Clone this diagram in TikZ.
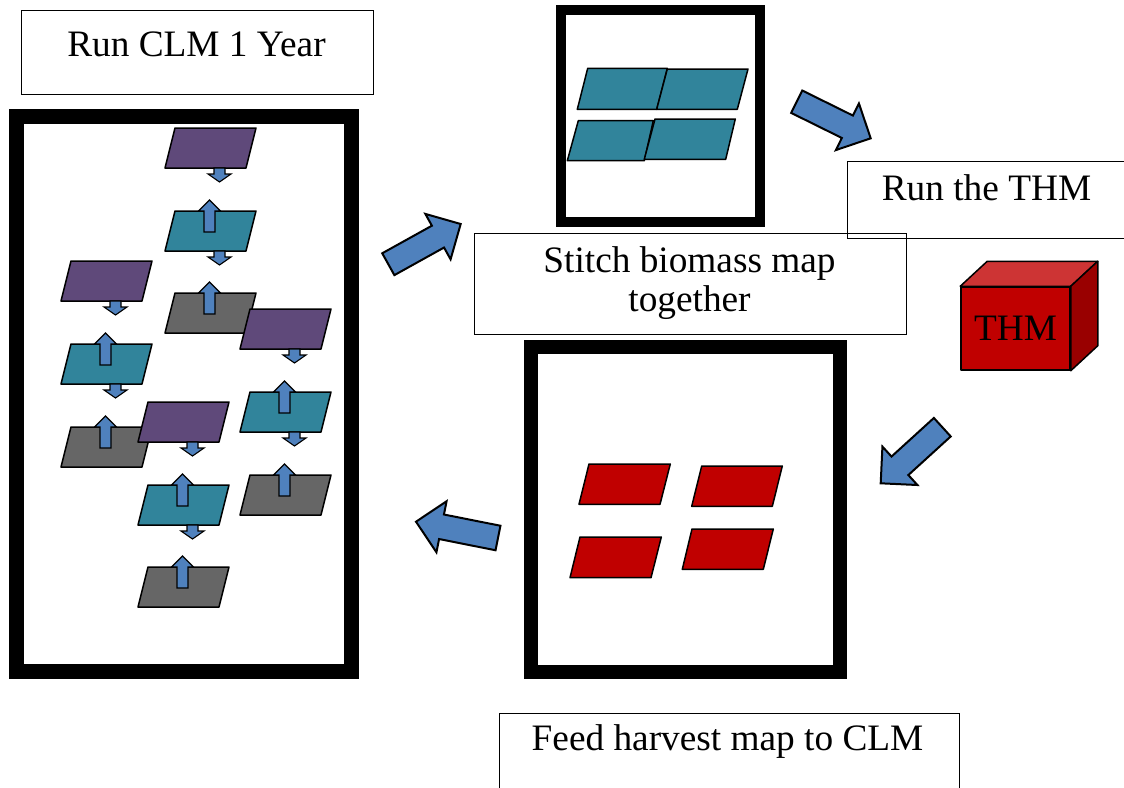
\documentclass[tikz,border=0pt]{standalone}
\usepackage{fontspec}
\setmainfont{Liberation Serif}
\usetikzlibrary{calc}
\definecolor{layerpurple}{HTML}{5F497A}
\definecolor{layerteal}{HTML}{31849B}
\definecolor{layergray}{HTML}{666666}
\definecolor{arrowblue}{HTML}{4F81BD}
\definecolor{mapred}{HTML}{C00000}
\definecolor{cubetop}{HTML}{CD3434}
\definecolor{cubeside}{HTML}{990000}

% block arrow: #1 shaft half width, #2 head half width, #3 head length, #4 tail, #5 tip, #6 style
\newcommand{\blockarr}[6]{%
  \coordinate (bah) at ($(#5)!#3!(#4)$);
  \filldraw[#6] ($(#4)!#1!90:(#5)$) -- ($(bah)!#1!90:(#5)$) -- ($(bah)!#2!90:(#5)$) -- (#5)
     -- ($(bah)!#2!-90:(#5)$) -- ($(bah)!#1!-90:(#5)$) -- ($(#4)!#1!-90:(#5)$) -- cycle;}
% layer parallelogram: #1 centre x, #2 top y, #3 colour
\newcommand{\layer}[3]{%
  \filldraw[tile, fill=#3] ({#1-35.5},#2) -- ({#1+45.5},#2) -- ({#1+35.5},{#2+40}) -- ({#1-45.5},{#2+40}) -- cycle;}
% small down arrow below a layer: #1 centre x, #2 top y of layer
\newcommand{\downarr}[2]{%
  \coordinate (sd-t) at ({#1+9},{#2+40});
  \coordinate (sd-h) at ({#1+9},{#2+54});
  \blockarr{5.5pt}{11.5pt}{8pt}{sd-t}{sd-h}{smallarr}}
% small up arrow into a layer: #1 centre x, #2 top y of layer
\newcommand{\uparr}[2]{%
  \coordinate (su-t) at ({#1-1},{#2+21});
  \coordinate (su-h) at ({#1-1},{#2-11});
  \blockarr{5.5pt}{11pt}{11pt}{su-t}{su-h}{smallarr}}
% one column: #1 centre x, #2 #3 #4 top of purple, teal, gray
\newcommand{\layercolumn}[4]{%
  \layer{#1}{#2}{layerpurple}\downarr{#1}{#2}%
  \layer{#1}{#3}{layerteal}\uparr{#1}{#3}\downarr{#1}{#3}%
  \layer{#1}{#4}{layergray}\uparr{#1}{#4}}

\begin{document}
\begin{tikzpicture}[x=1pt,y=-1pt,
  lbl/.style={font=\fontsize{37.3}{39}\selectfont, inner sep=0pt, anchor=base},
  box/.style={draw, line width=1.2pt, inner sep=0pt, anchor=north west},
  thickframe/.style={draw, line width=#1},
  tile/.style={draw, line width=1.5pt, line join=round},
  bigarr/.style={fill=arrowblue, draw=black, line width=2pt},
  smallarr/.style={fill=arrowblue, draw=black, line width=1.1pt},
  cubeface/.style={draw, line width=1.5pt, line join=round},
]
\useasboundingbox (0,0) rectangle (1124,787);

% ---- left panel: run CLM ----
\node[box, minimum width=352pt, minimum height=83.5pt] (clmbox) at (20.5,10) {};
\node[lbl] (clmtext) at (196.5,56) {Run CLM 1 Year};
\draw[thickframe=14.5pt] (16.6,116.3) rectangle (351.6,671.7);
\layercolumn{210.5}{128}{211}{293}
\layercolumn{106.5}{261}{344}{427}
\layercolumn{285.5}{309}{392}{475}
\layercolumn{183.5}{402}{485}{567}

% ---- top middle: stitched map ----
\draw[thickframe=10pt] (561,10) rectangle (760,222);
\filldraw[tile, fill=layerteal] (587.7,68.3) -- (667.3,68.3) -- (656.7,109.3) -- (577.3,109.3) -- cycle;
\filldraw[tile, fill=layerteal] (667.3,69) -- (748,69) -- (737.3,109.3) -- (656.7,109.3) -- cycle;
\filldraw[tile, fill=layerteal] (578.3,120.7) -- (653.3,120.7) -- (644.3,160.7) -- (567.3,160.7) -- cycle;
\filldraw[tile, fill=layerteal] (655,119) -- (735.3,119) -- (725.7,159.3) -- (644.3,159.3) -- cycle;

\node[box, minimum width=431.5pt, minimum height=101pt] (stitchbox) at (474,232.5) {};
\node[lbl] (stitch1) at (689.5,272) {Stitch biomass map};
\node[lbl] (stitch2) at (689.5,311) {together};

% ---- THM ----
\node[box, minimum width=290pt, minimum height=77pt] (thmbox) at (846.5,161) {};
\node[lbl] (thmtext) at (986.5,200) {Run the THM};

\node[cubeface, fill=mapred, minimum width=109pt, minimum height=83pt, inner sep=0pt,
      font=\fontsize{37.3}{39}\selectfont] (thm) at (1015.5,328.5) {THM};
\filldraw[cubeface, fill=cubetop] (thm.north west) -- ($(thm.north west)+(27,-25)$)
   -- ($(thm.north east)+(27,-25)$) -- (thm.north east) -- cycle;
\filldraw[cubeface, fill=cubeside] (thm.north east) -- ($(thm.north east)+(27,-25)$)
   -- ($(thm.south east)+(27,-25)$) -- (thm.south east) -- cycle;

% ---- bottom middle: harvest map ----
\draw[thickframe=13.5pt] (530.8,346.8) rectangle (840.2,672.2);
\filldraw[tile, fill=mapred] (589,464) -- (670.3,464) -- (660,504.3) -- (579,504.3) -- cycle;
\filldraw[tile, fill=mapred] (701.7,466) -- (782.3,466) -- (772.3,506.3) -- (691.7,506.3) -- cycle;
\filldraw[tile, fill=mapred] (580,537) -- (661.3,537) -- (651,577.7) -- (570,577.7) -- cycle;
\filldraw[tile, fill=mapred] (692,529) -- (773.3,529) -- (763.3,569.3) -- (682.3,569.3) -- cycle;

\node[box, minimum width=460pt, minimum height=90pt] (feedbox) at (498.5,712.5) {};
\node[lbl] (feedtext) at (727.5,750) {Feed harvest map to CLM};

% ---- big flow arrows ----
\coordinate (a1t) at (388.3,264.2); \coordinate (a1h) at (460.7,224);
\coordinate (a2t) at (796.7,101.7); \coordinate (a2h) at (870.7,138.3);
\coordinate (a3t) at (942.3,427.2); \coordinate (a3h) at (880.7,483.3);
\coordinate (a4t) at (498,538);     \coordinate (a4h) at (416,521.7);
\blockarr{12.5pt}{26pt}{26pt}{a1t}{a1h}{bigarr}
\blockarr{12.5pt}{26pt}{26pt}{a2t}{a2h}{bigarr}
\blockarr{12.5pt}{26pt}{26pt}{a3t}{a3h}{bigarr}
\blockarr{12.5pt}{26pt}{26pt}{a4t}{a4h}{bigarr}
\end{tikzpicture}
\end{document}
